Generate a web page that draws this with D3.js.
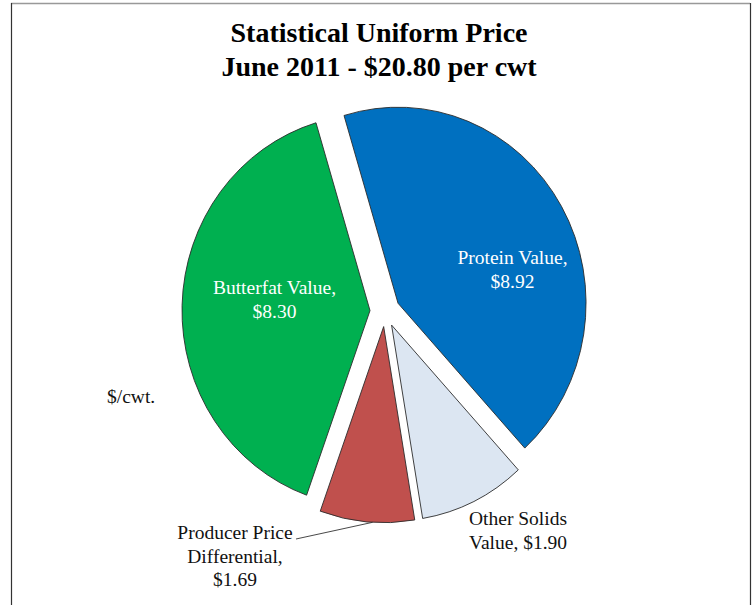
<!DOCTYPE html>
<html>
<head>
<meta charset="utf-8">
<script src="https://cdn.jsdelivr.net/npm/d3@7/dist/d3.min.js"></script>
<style>
  html, body { margin: 0; padding: 0; background: #fff; }
  svg { display: block; }
</style>
</head>
<body>
<div id="chart"></div>
<script>
(function () {

  // ---------------------------------------------------------
  // DATA
  // ---------------------------------------------------------
  const titleLines = ["Statistical Uniform Price", "June 2011 - $20.80 per cwt"];
  const categories = ["Protein Value", "Other Solids Value", "Producer Price Differential", "Butterfat Value"];
  const values = [8.92, 1.90, 1.69, 8.30];
  const labelLines = [
    ["Protein Value,", "$8.92"],
    ["Other Solids", "Value, $1.90"],
    ["Producer Price", "Differential,", "$1.69"],
    ["Butterfat Value,", "$8.30"]
  ];
  const colors = ["#0070C0", "#DCE6F2", "#C0504D", "#00B050"];
  const unitLabel = "$/cwt.";

  // ---------------------------------------------------------
  // SETUP
  // ---------------------------------------------------------
  const width = 756;
  const height = 605;
  const font = "'Liberation Serif', 'Times New Roman', serif";

  const svg = d3.select("#chart").append("svg")
      .attr("width", width)
      .attr("height", height);

  // frame
  svg.append("line").attr("x1", 11).attr("x2", 750).attr("y1", 3.5).attr("y2", 3.5)
      .attr("stroke", "#999").attr("stroke-width", 1.5);
  svg.append("line").attr("x1", 11.5).attr("x2", 11.5).attr("y1", 3).attr("y2", height)
      .attr("stroke", "#333").attr("stroke-width", 1.2);
  svg.append("line").attr("x1", 750.5).attr("x2", 750.5).attr("y1", 3).attr("y2", height)
      .attr("stroke", "#333").attr("stroke-width", 1.2);

  // title
  svg.append("text")
      .attr("x", 379)
      .attr("y", 42)
      .attr("text-anchor", "middle")
      .style("font-family", font)
      .style("font-weight", "bold")
      .style("font-size", "28px")
      .selectAll("tspan")
      .data(titleLines)
      .enter().append("tspan")
      .attr("x", 379)
      .attr("dy", (d, i) => i === 0 ? 0 : 34)
      .text(d => d);

  // ---------------------------------------------------------
  // PIE
  // ---------------------------------------------------------
  const cx = 385, cy = 311;
  const radius = 188;
  const yStretch = 1.043;
  const explode = 15;
  const startDeg = -16.7;

  const pie = d3.pie()
      .sort(null)
      .value(d => d)
      .startAngle(startDeg * Math.PI / 180)
      .endAngle((startDeg + 360) * Math.PI / 180);

  const arcs = pie(values);
  const arc = d3.arc().innerRadius(0).outerRadius(radius);

  const offset = d => {
    const a = (d.startAngle + d.endAngle) / 2;
    return [explode * Math.sin(a), -explode * Math.cos(a)];
  };

  const gPie = svg.append("g")
      .attr("transform", `translate(${cx},${cy}) scale(1,${yStretch})`);

  gPie.selectAll("path")
      .data(arcs)
      .enter().append("path")
      .attr("transform", d => `translate(${offset(d)})`)
      .attr("d", arc)
      .attr("fill", (d, i) => colors[i])
      .attr("stroke", "#2b2b2b")
      .attr("stroke-width", 0.9)
      .attr("vector-effect", "non-scaling-stroke");

  // screen position of a point in pie space
  const toScreen = (p) => [cx + p[0], cy + p[1] * yStretch];

  // ---------------------------------------------------------
  // LABELS (positions relative to pie centre)
  // ---------------------------------------------------------
  const labelLayout = [
    { dx: 127.5, dy: -47, anchor: "middle", fill: "#fff" },
    { dx: 84, dy: 214, anchor: "start", fill: "#111" },
    { dx: -150, dy: 228, anchor: "middle", fill: "#111" },
    { dx: -110.5, dy: -17, anchor: "middle", fill: "#fff" }
  ];

  labelLines.forEach((lines, i) => {
    const L = labelLayout[i];
    const t = svg.append("text")
        .attr("x", cx + L.dx)
        .attr("y", cy + L.dy)
        .attr("text-anchor", L.anchor)
        .style("font-family", font)
        .style("font-size", "19.5px")
        .style("fill", L.fill);
    t.selectAll("tspan")
      .data(lines)
      .enter().append("tspan")
      .attr("x", cx + L.dx)
      .attr("dy", (d, j) => j === 0 ? 0 : 23.5)
      .text(d => d);
  });

  // leader line for the producer price differential
  const ppd = arcs[2];
  const leadAngle = (ppd.startAngle + ppd.endAngle) / 2 - 0.03;
  const o = offset(ppd);
  const tip = toScreen([o[0] + radius * Math.sin(leadAngle), o[1] - radius * Math.cos(leadAngle)]);
  svg.append("line")
      .attr("x1", 296)
      .attr("y1", cy + 228)
      .attr("x2", tip[0])
      .attr("y2", tip[1])
      .attr("stroke", "#333")
      .attr("stroke-width", 0.9);

  // unit label
  svg.append("text")
      .attr("x", 107)
      .attr("y", 403)
      .style("font-family", font)
      .style("font-size", "19.5px")
      .style("fill", "#111")
      .text(unitLabel);

})();
</script>
</body>
</html>
